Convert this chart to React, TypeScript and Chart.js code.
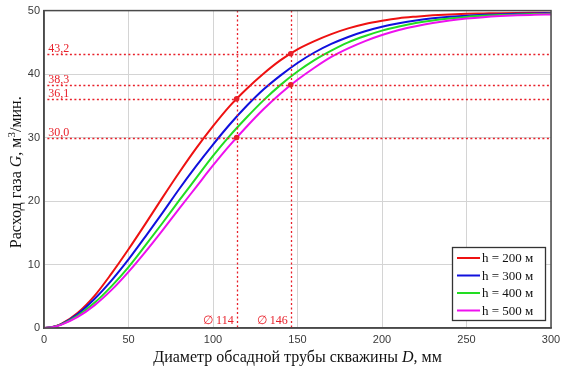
import React, { useEffect, useRef } from "react";
import { Chart, registerables } from "chart.js";

Chart.register(...registerables);

const diameters = [0, 5, 10, 20, 30, 40, 50, 60, 70, 80, 90, 100, 110, 120, 130, 140, 150, 160, 170, 180, 190, 200, 210, 220, 230, 240, 250, 260, 270, 280, 290, 300];
const gH200 = [0, 0.15, 0.6, 2.4, 5.1, 8.6, 12.4, 16.4, 20.5, 24.5, 28.3, 31.8, 35.0, 37.7, 40.1, 42.2, 43.9, 45.2, 46.3, 47.2, 47.9, 48.4, 48.8, 49.05, 49.25, 49.4, 49.5, 49.55, 49.6, 49.63, 49.65, 49.67];
const gH300 = [0, 0.15, 0.58, 2.2, 4.6, 7.5, 10.8, 14.4, 18.1, 21.9, 25.5, 28.9, 32.1, 35.0, 37.6, 39.8, 41.75, 43.4, 44.75, 45.85, 46.75, 47.45, 48.0, 48.45, 48.8, 49.05, 49.2, 49.33, 49.42, 49.5, 49.55, 49.58];
const gH400 = [0, 0.14, 0.53, 1.95, 4.0, 6.6, 9.6, 13.0, 16.5, 20.1, 23.6, 27.1, 30.3, 33.2, 35.9, 38.3, 40.4, 42.2, 43.7, 45.0, 46.0, 46.85, 47.5, 48.05, 48.45, 48.75, 49.0, 49.17, 49.3, 49.38, 49.45, 49.5];
const gH500 = [0, 0.13, 0.5, 1.75, 3.6, 6.0, 8.85, 12.0, 15.35, 18.8, 22.2, 25.6, 28.8, 31.75, 34.5, 36.95, 39.1, 41.0, 42.7, 44.05, 45.2, 46.15, 46.95, 47.55, 48.05, 48.45, 48.75, 48.97, 49.13, 49.25, 49.33, 49.4];

const seriesLabels = ["h = 200 м", "h = 300 м", "h = 400 м", "h = 500 м"];
const seriesColors = ["#ee1111", "#1010dd", "#22dd22", "#ee11ee"];

const markerD = [114, 146];
const markerDLabels = ["∅ 114", "∅ 146"];
const markerG = [43.2, 38.3, 36.1, 30.0];
const markerGLabels = ["43,2", "38,3", "36,1", "30,0"];
const markerPoints = [
  [114, 36.1],
  [114, 30.0],
  [146, 43.2],
  [146, 38.3],
];

const xTitleMain = "Диаметр обсадной трубы скважины ";
const xTitleItalic = "D";
const xTitleTail = ", мм";

const RED = "#e8202a";

const overlayPlugin = {
  id: "overlay",
  afterDatasetsDraw(chart: any) {
    const ctx = chart.ctx;
    const area = chart.chartArea;
    const xs = chart.scales.x;
    const ys = chart.scales.y;
    ctx.save();
    // dotted marker lines
    ctx.strokeStyle = RED;
    ctx.lineWidth = 1.3;
    ctx.setLineDash([2, 2.5]);
    markerG.forEach((g) => {
      const py = Math.round(ys.getPixelForValue(g)) + 0.5;
      ctx.beginPath();
      ctx.moveTo(xs.getPixelForValue(2), py);
      ctx.lineTo(area.right, py);
      ctx.stroke();
    });
    markerD.forEach((d) => {
      const px = Math.round(xs.getPixelForValue(d)) + 0.5;
      ctx.beginPath();
      ctx.moveTo(px, area.top);
      ctx.lineTo(px, area.bottom);
      ctx.stroke();
    });
    ctx.setLineDash([]);
    // labels
    ctx.fillStyle = RED;
    ctx.font = "12px 'Liberation Serif', serif";
    ctx.textAlign = "left";
    ctx.textBaseline = "alphabetic";
    markerG.forEach((g, i) => {
      const py = ys.getPixelForValue(g);
      ctx.fillText(markerGLabels[i], xs.getPixelForValue(2.5), py - 2);
    });
    ctx.textAlign = "right";
    markerD.forEach((d, i) => {
      const px = xs.getPixelForValue(d);
      ctx.fillText(markerDLabels[i], px - 3, area.bottom - 4);
    });
    // points
    markerPoints.forEach(([d, g]) => {
      ctx.beginPath();
      ctx.arc(xs.getPixelForValue(d), ys.getPixelForValue(g), 2.8, 0, Math.PI * 2);
      ctx.fill();
    });
    // frame
    ctx.strokeStyle = "#4a4a4a";
    ctx.lineWidth = 1.5;
    ctx.strokeRect(area.left, area.top, area.right - area.left, area.bottom - area.top);

    // legend
    const lx = 452, ly = 247, lw = 93, lh = 73;
    ctx.fillStyle = "#ffffff";
    ctx.fillRect(lx, ly, lw, lh);
    ctx.strokeStyle = "#333333";
    ctx.lineWidth = 1.3;
    ctx.strokeRect(lx + 0.5, ly + 0.5, lw, lh);
    ctx.font = "13px 'Liberation Serif', serif";
    ctx.textAlign = "left";
    ctx.textBaseline = "middle";
    chart.data.datasets.forEach((ds: any, i: number) => {
      const cy = ly + 11 + i * 17.5;
      ctx.strokeStyle = ds.borderColor;
      ctx.lineWidth = 2;
      ctx.beginPath();
      ctx.moveTo(lx + 5, cy);
      ctx.lineTo(lx + 28, cy);
      ctx.stroke();
      ctx.fillStyle = "#111111";
      ctx.fillText(ds.label, lx + 30, cy + 1);
    });

    // axis titles
    ctx.fillStyle = "#111111";
    ctx.textBaseline = "alphabetic";
    const fontN = "16px 'Liberation Serif', serif";
    const fontI = "italic 16px 'Liberation Serif', serif";
    ctx.font = fontN;
    const w1 = ctx.measureText(xTitleMain).width;
    const w3 = ctx.measureText(xTitleTail).width;
    ctx.font = fontI;
    const w2 = ctx.measureText(xTitleItalic).width;
    const total = w1 + w2 + w3;
    let sx = (area.left + area.right) / 2 - total / 2;
    const by = 362;
    ctx.textAlign = "left";
    ctx.font = fontN;
    ctx.fillText(xTitleMain, sx, by);
    ctx.font = fontI;
    ctx.fillText(xTitleItalic, sx + w1, by);
    ctx.font = fontN;
    ctx.fillText(xTitleTail, sx + w1 + w2, by);

    // y title rotated
    const parts: [string, string, number][] = [
      ["Расход газа ", fontN, 0],
      ["G", fontI, 0],
      [", м", fontN, 0],
      ["3", "11px 'Liberation Serif', serif", -6],
      ["/мин.", fontN, 0],
    ];
    let tw = 0;
    const widths = parts.map(([t, f]) => {
      ctx.font = f;
      const w = ctx.measureText(t).width;
      tw += w;
      return w;
    });
    ctx.translate(21, (area.top + area.bottom) / 2 + 3);
    ctx.rotate(-Math.PI / 2);
    let cx = -tw / 2;
    parts.forEach(([t, f, dy], i) => {
      ctx.font = f;
      ctx.fillText(t, cx, dy);
      cx += widths[i];
    });
    ctx.restore();
  },
};

export default function App() {
  const ref = useRef<HTMLCanvasElement>(null);
  useEffect(() => {
    if (!ref.current) return;
    const seriesValues = [gH200, gH300, gH400, gH500];
    const chart = new Chart(ref.current, {
      type: "line",
      data: {
        datasets: seriesValues.map((vals, i) => ({
          label: seriesLabels[i],
          data: diameters.map((d, j) => ({ x: d, y: vals[j] })),
          borderColor: seriesColors[i],
          backgroundColor: seriesColors[i],
          borderWidth: 2,
          pointRadius: 0,
          cubicInterpolationMode: "monotone" as const,
          order: 3 - i,
        })),
      },
      options: {
        animation: false,
        responsive: false,
        maintainAspectRatio: false,
        layout: { padding: { top: 10, right: 16, left: 0, bottom: 0 } },
        plugins: {
          legend: { display: false },
          tooltip: { enabled: false },
          title: { display: false },
        },
        scales: {
          x: {
            type: "linear",
            min: 0,
            max: 300,
            ticks: {
              stepSize: 50,
              padding: 5,
              color: "#3a3a3a",
              font: { family: "'Liberation Sans', sans-serif", size: 11 },
              maxRotation: 0,
            },
            grid: { color: "#d4d4d4", lineWidth: 1, drawTicks: false },
            border: { color: "#4a4a4a", width: 1.5 },
            afterFit: (s: any) => {
              s.height = 47;
            },
          },
          y: {
            type: "linear",
            min: 0,
            max: 50,
            ticks: {
              stepSize: 10,
              padding: 4,
              color: "#3a3a3a",
              font: { family: "'Liberation Sans', sans-serif", size: 11 },
            },
            grid: { color: "#d4d4d4", lineWidth: 1, drawTicks: false },
            border: { color: "#4a4a4a", width: 1.5 },
            afterFit: (s: any) => {
              s.width = 44;
            },
          },
        },
      },
      plugins: [overlayPlugin],
    });
    return () => chart.destroy();
  }, []);
  return (
    <div style={{ position: "fixed", left: 0, top: 0, width: 567, height: 375, background: "#fff" }}>
      <canvas ref={ref} width={567} height={375} style={{ width: 567, height: 375, display: "block" }} />
    </div>
  );
}
